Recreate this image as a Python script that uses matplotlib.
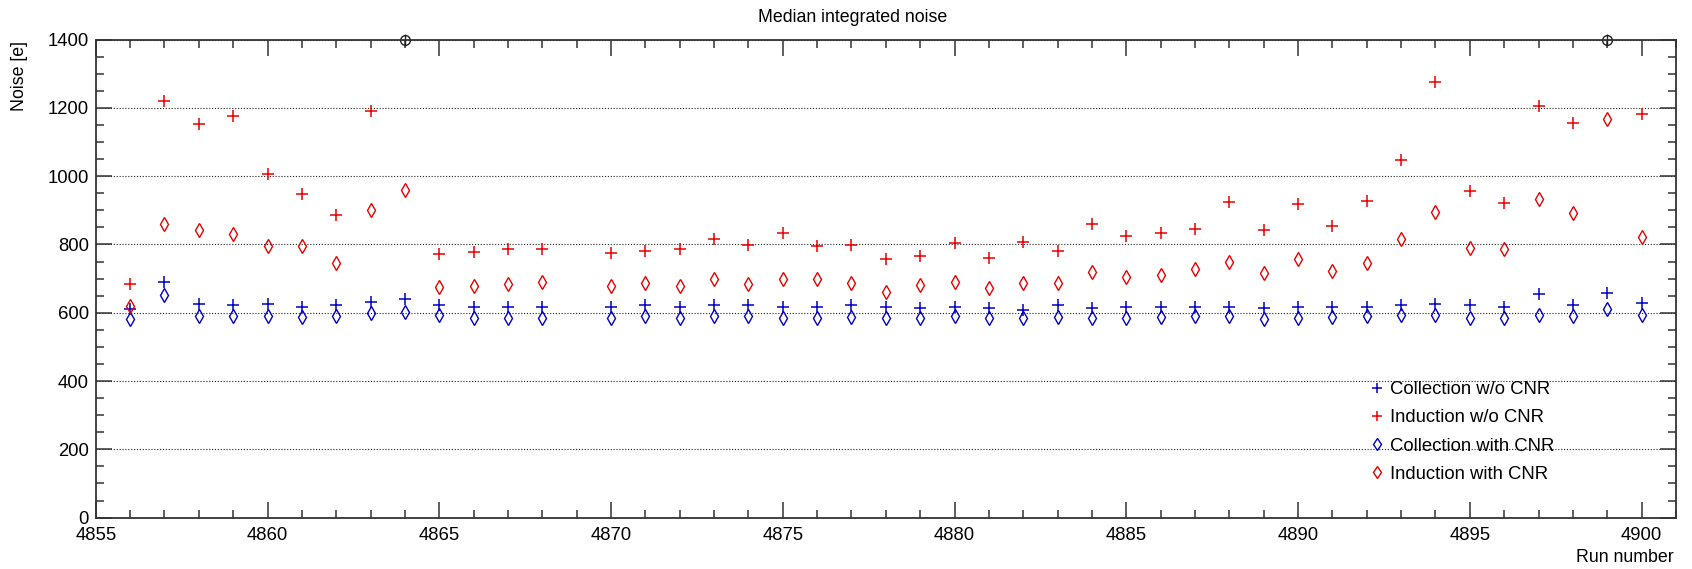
import matplotlib
matplotlib.use("Agg")
import matplotlib.pyplot as plt
from matplotlib.ticker import MultipleLocator
import numpy as np

plt.rcParams['font.family'] = ['Liberation Sans', 'DejaVu Sans']

runs = [4856, 4857, 4858, 4859, 4860, 4861, 4862, 4863, 4864, 4865, 4866, 4867, 4868,
        4870, 4871, 4872, 4873, 4874, 4875, 4876, 4877, 4878, 4879, 4880, 4881, 4882,
        4883, 4884, 4885, 4886, 4887, 4888, 4889, 4890, 4891, 4892, 4893, 4894, 4895,
        4896, 4897, 4898, 4899, 4900]

collection_wo_cnr = [612, 689, 625, 622, 625, 618, 622, 632, 641, 622, 616, 616, 616,
                     616, 622, 616, 622, 622, 616, 616, 622, 617, 614, 617, 614, 609,
                     622, 614, 616, 616, 616, 618, 615, 616, 618, 618, 622, 625, 622,
                     616, 654, 622, 657, 629]

induction_wo_cnr = [685, 1221, 1153, 1175, 1007, 947, 885, 1190, np.nan, 771, 779, 788, 788,
                    774, 782, 788, 815, 799, 833, 796, 799, 757, 767, 803, 760, 808,
                    782, 859, 825, 833, 846, 924, 843, 918, 853, 928, 1046, 1275, 957,
                    921, 1206, 1157, np.nan, 1183]

collection_with_cnr = [582, 652, 590, 590, 590, 588, 590, 598, 602, 594, 586, 586, 586,
                       586, 590, 586, 590, 590, 586, 586, 588, 586, 586, 590, 586, 586,
                       588, 586, 586, 588, 590, 590, 582, 586, 588, 590, 592, 593, 586,
                       586, 593, 590, 612, 593]

induction_with_cnr = [620, 860, 841, 830, 795, 795, 745, 902, 959, 674, 678, 683, 691,
                      679, 687, 679, 698, 684, 698, 698, 688, 662, 680, 691, 673, 688,
                      688, 719, 705, 712, 727, 748, 716, 758, 723, 745, 816, 894, 789,
                      786, 933, 891, 1166, 823]

# runs whose "Induction w/o CNR" value lies above the plotted range
offscale_runs = [4864, 4899]
offscale_level = [1400, 1400]

blue = '#0000c0'
red = '#e80000'

fig = plt.figure(figsize=(16.92, 5.69), dpi=100)
ax = fig.add_axes([0.0566, 0.0903, 0.9905 - 0.0566, 0.9304 - 0.0903])

ax.yaxis.grid(True, linestyle=(0, (1, 1.6)), color='#222222', linewidth=0.8)
ax.set_axisbelow(True)

h1, = ax.plot(runs, collection_wo_cnr, linestyle='none', marker='+', color=blue,
              markersize=8, markeredgewidth=1.1, label='Collection w/o CNR')
h2, = ax.plot(runs, induction_wo_cnr, linestyle='none', marker='+', color=red,
              markersize=8, markeredgewidth=1.1, label='Induction w/o CNR')
h3, = ax.plot(runs, collection_with_cnr, linestyle='none', marker='d', color=blue,
              markerfacecolor='none', markersize=7.5, markeredgewidth=1.0,
              label='Collection with CNR')
h4, = ax.plot(runs, induction_with_cnr, linestyle='none', marker='d', color=red,
              markerfacecolor='none', markersize=7.5, markeredgewidth=1.0,
              label='Induction with CNR')

ax.plot(offscale_runs, offscale_level, linestyle='none', marker='o', color='#222222',
        markerfacecolor='none', markersize=7, markeredgewidth=1.0, clip_on=False)
ax.plot(offscale_runs, offscale_level, linestyle='none', marker='|', color='#222222',
        markersize=9, markeredgewidth=1.0, clip_on=False)

ax.set_xlim(4855, 4901)
ax.set_ylim(0, 1400)
ax.xaxis.set_major_locator(MultipleLocator(5))
ax.xaxis.set_minor_locator(MultipleLocator(1))
ax.yaxis.set_major_locator(MultipleLocator(200))
ax.yaxis.set_minor_locator(MultipleLocator(50))

ax.tick_params(which='both', direction='in', top=True, right=True, color='#333333',
               labelsize=13.3, width=1.1)
ax.tick_params(which='major', length=11.5, pad=5)
ax.tick_params(which='minor', length=5.8)
ax.tick_params(axis='x', which='major', pad=6.8)
xt = [4855, 4860, 4865, 4870, 4875, 4880, 4885, 4890, 4895, 4900]
ax.set_xticks(xt)
ax.set_xticklabels([str(v) for v in xt])
for s in ax.spines.values():
    s.set_color('#333333')
    s.set_linewidth(1.3)

fig.text(0.504, 1 - 18 / 569, 'Median integrated noise', ha='center', va='center',
         fontsize=12.8)
fig.text(20 / 1692, 1 - 41 / 569, 'Noise [e]', rotation=90, ha='center', va='top',
         fontsize=12.8)
fig.text(1674 / 1692, 1 - 558 / 569, 'Run number', ha='right', va='center',
         fontsize=12.8)

leg = ax.legend(handles=[h1, h2, h3, h4], loc='upper left',
                bbox_to_anchor=(1370 / 1692, 1 - 381 / 569),
                bbox_transform=fig.transFigure, frameon=False, fontsize=13.3,
                handlelength=0.75, handletextpad=0.35, labelspacing=0.61,
                borderpad=0, borderaxespad=0, markerscale=0.85)

fig.savefig('out.png', dpi=100)
